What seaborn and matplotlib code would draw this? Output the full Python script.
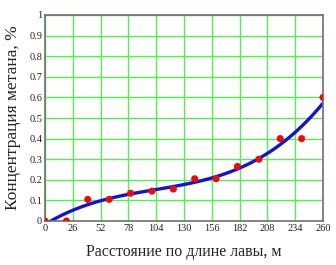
import matplotlib
matplotlib.use("Agg")
import matplotlib.pyplot as plt
import seaborn as sns
import pandas as pd
import numpy as np

distance = [0, 20, 40, 60, 80, 100, 120, 140, 160, 180, 200, 220, 240, 260]
methane = [0.0, 0.0, 0.105, 0.105, 0.135, 0.145, 0.155, 0.205, 0.205, 0.265, 0.30, 0.40, 0.40, 0.60]
x_ticks = [0, 26, 52, 78, 104, 130, 156, 182, 208, 234, 260]
y_ticks = [0, 0.1, 0.2, 0.3, 0.4, 0.5, 0.6, 0.7, 0.8, 0.9, 1.0]
y_tick_labels = ["0", "0.1", "0.2", "0.3", "0.4", "0.5", "0.6", "0.7", "0.8", "0.9", "1"]

df = pd.DataFrame({"x": distance, "y": methane})

sns.set_style("white")
plt.rcParams["font.family"] = ["Liberation Serif", "DejaVu Serif"]

fig = plt.figure(figsize=(3.36, 2.65), dpi=100)
ax = fig.add_axes([45/336, 1 - 221/265, (323-45)/336, (221-15)/265])

sns.regplot(data=df, x="x", y="y", order=3, ci=None, scatter=False, truncate=True,
            line_kws=dict(color="#1414cc", lw=2.4), ax=ax)
sns.scatterplot(data=df, x="x", y="y", color="#ee0a0a", s=26, edgecolor="none", ax=ax, zorder=4)

ax.set_xlim(0, 260)
ax.set_ylim(0, 1)
ax.set_xticks(x_ticks)
ax.set_xticklabels([str(t) for t in x_ticks])
ax.set_yticks(y_ticks)
ax.set_yticklabels(y_tick_labels)
ax.grid(True, color="#55ee55", lw=1.0)
ax.set_axisbelow(True)
for s in ax.spines.values():
    s.set_color("#707070")
    s.set_linewidth(1.2)
ax.tick_params(axis="both", labelsize=7.5, length=0, pad=2, colors="#222222")
ax.set_xlabel("Расстояние по длине лавы, м", fontsize=11.5, labelpad=8)
ax.set_ylabel("Концентрация метана, %", fontsize=12.5, labelpad=6)

fig.savefig("out.png", dpi=100)
